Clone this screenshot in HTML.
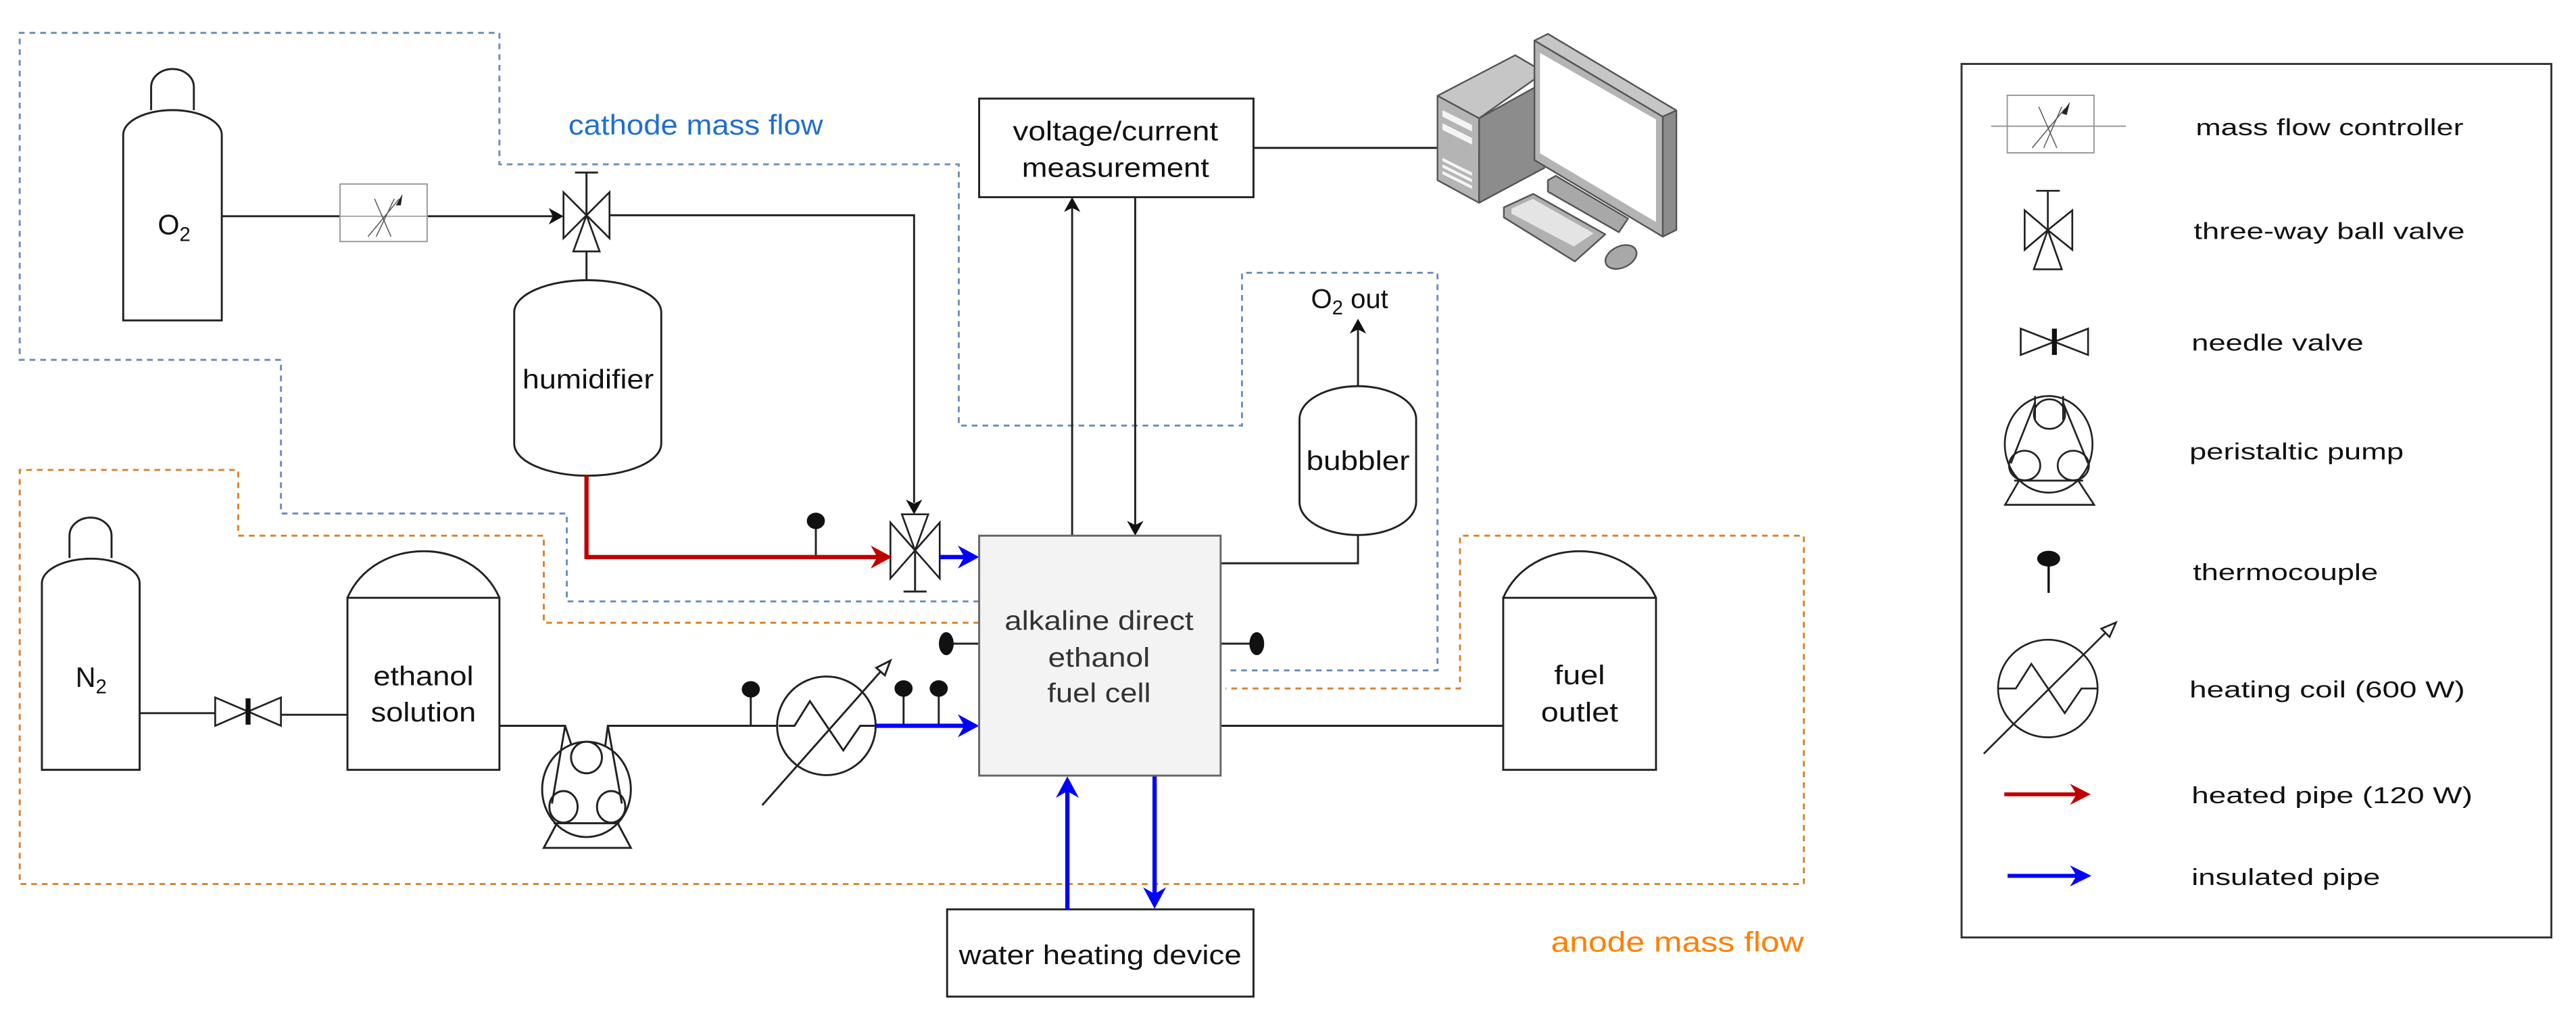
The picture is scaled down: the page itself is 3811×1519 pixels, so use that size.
<!DOCTYPE html>
<html><head><meta charset="utf-8"><style>
html,body{margin:0;padding:0;background:#fff;}
svg{display:block;}
text{font-family:"Liberation Sans",Arial,sans-serif;}
</style></head><body>
<svg width="3811" height="1519" viewBox="0 0 1568 625" preserveAspectRatio="none" xmlns="http://www.w3.org/2000/svg">
<rect width="1568" height="625" fill="#fff"/>

<!-- dashed regions -->
<g fill="none" stroke-width="1.2" stroke-dasharray="3.5 3">
<path stroke="#6c8ebf" d="M596,366 H345 V312.5 H171 V219 H12 V20 H304 V100 H583.6 V259 H756 V166 H875 V408 H746"/>
<path stroke="#d9822b" d="M596,379 H331 V326 H145 V286 H12 V538 H1098 V326 H888.7 V419 H746"/>
</g>

<!-- text labels regions -->
<text x="346" y="81.8" font-size="17" fill="#1f6fd0" textLength="155" lengthAdjust="spacingAndGlyphs">cathode mass flow</text>
<text x="944" y="579.2" font-size="17" fill="#ff8000" textLength="154" lengthAdjust="spacingAndGlyphs">anode mass flow</text>

<g fill="none" stroke="#222" stroke-width="1.2">
<!-- O2 cylinder -->
<path d="M92,67 V53 A13,11 0 0 1 118,53 V67" fill="#fff"/>
<path d="M75,195 V82 A30,15 0 0 1 135,82 V195 Z" fill="#fff"/>
<!-- N2 cylinder -->
<path d="M42.3,339.6 V326 A12.8,11 0 0 1 67.9,326 V339.6" fill="#fff"/>
<path d="M25.5,468.5 V355 A29.75,15 0 0 1 85,355 V468.5 Z" fill="#fff"/>
<!-- pipe O2 -> valve -->
<line x1="135" y1="131.6" x2="209" y2="131.6"/>
<line x1="260" y1="131.6" x2="337" y2="131.6"/>
<!-- valve1 -> valve2 -->
<path d="M371,131 H556.4 V306"/>
<!-- valve1 stem -->
<line x1="357" y1="131" x2="357" y2="105"/>
<line x1="350" y1="105" x2="364" y2="105"/>
<line x1="357" y1="153" x2="357" y2="171"/>
<!-- humidifier -->
<path d="M313,190 A44.75,19.5 0 0 1 402.5,190 V270 A44.75,19.5 0 0 1 313,270 Z" fill="#fff"/>
<!-- valve2 stem -->
<line x1="557" y1="335" x2="557" y2="360"/>
<line x1="550" y1="360" x2="564" y2="360"/>
<!-- voltage box -->
<rect x="596" y="60" width="167" height="60" fill="#fff"/>
<line x1="763" y1="90" x2="876" y2="90"/>
<line x1="652.6" y1="326" x2="652.6" y2="126"/>
<line x1="691" y1="120" x2="691" y2="320"/>
<!-- bubbler -->
<path d="M791,255 A35.5,20 0 0 1 862,255 V305.6 A35.5,20 0 0 1 791,305.6 Z" fill="#fff"/>
<line x1="826.6" y1="235" x2="826.6" y2="200"/>
<path d="M826.6,325.6 V342.8 H743"/>
<!-- N2 -> needle valve -> ethanol -->
<line x1="85" y1="434" x2="131" y2="434"/>
<line x1="171" y1="435" x2="211.5" y2="435"/>
<!-- ethanol tank -->
<path d="M211.5,363.8 C228,326 287.5,326 304,363.8" fill="#fff"/>
<rect x="211.5" y="363.8" width="92.5" height="104.7" fill="#fff"/>
<!-- fuel outlet tank -->
<path d="M915,363.8 C931.5,326 991.5,326 1008,363.8" fill="#fff"/>
<rect x="915" y="363.8" width="93" height="104.7" fill="#fff"/>
<!-- pipes ethanol -> pump -> heater -->
<path d="M304,441.7 H344 L349,457"/>
<path d="M368,457 L370,441.7 H474"/>
<line x1="743" y1="441.7" x2="915" y2="441.7"/>
<!-- pump -->
<ellipse cx="357" cy="480.4" rx="27" ry="29" fill="#fff"/>
<ellipse cx="357" cy="461" rx="9.4" ry="9.6"/>
<ellipse cx="343" cy="491" rx="8.6" ry="9.6"/>
<ellipse cx="372" cy="491" rx="8.6" ry="9.6"/>
<line x1="344" y1="441.7" x2="336" y2="489"/>
<line x1="370" y1="441.7" x2="378.5" y2="489"/>
<line x1="337" y1="501" x2="377" y2="501"/>
<path d="M339,501 L331,516 H384 L376,501"/>
<!-- heater -->
<circle cx="503" cy="441.7" r="30" fill="#fff"/>
<path d="M474,441.7 H483.6 L493,426.7 L513.3,456.7 L523.6,441.7 H533"/>
<line x1="464" y1="490" x2="536" y2="408.7"/>
<polygon points="542,402 538.6,411 533.4,406.4" fill="#fff"/>
<!-- thermocouple stems -->
<line x1="496.6" y1="320" x2="496.6" y2="339"/>
<line x1="457" y1="423" x2="457" y2="441.7"/>
<line x1="550" y1="423" x2="550" y2="441.7"/>
<line x1="571.4" y1="423" x2="571.4" y2="441.7"/>
<line x1="580" y1="391.7" x2="596" y2="391.7"/>
<line x1="743" y1="391.7" x2="761" y2="391.7"/>
<!-- water heating device -->
<rect x="576.5" y="553.4" width="186.5" height="53.1" fill="#fff"/>
</g>

<!-- MFC main -->
<rect x="207" y="112" width="53" height="35" fill="#fff" stroke="#999" stroke-width="0.8"/>
<line x1="207" y1="131.6" x2="260" y2="131.6" stroke="#aaa" stroke-width="0.8"/>
<g stroke="#555" stroke-width="0.6" fill="none">
<line x1="228" y1="121" x2="238" y2="144"/><line x1="240" y1="121" x2="229" y2="144"/>
<line x1="224" y1="144" x2="243" y2="121"/>
</g>
<polygon points="245,118 241,125 244,125" fill="#222"/>

<!-- valve1 -->
<g fill="#fff" stroke="#222" stroke-width="1.1">
<polygon points="343,117 343,145 357,131"/>
<polygon points="371,117 371,145 357,131"/>
<polygon points="357,131 349,153 365,153"/>
</g>
<!-- valve2 -->
<g fill="#fff" stroke="#222" stroke-width="1.1">
<polygon points="557,335 549,313 565,313"/>
<polygon points="542,318 542,352 557,335"/>
<polygon points="572,318 572,352 557,335"/>
</g>
<!-- needle valve main -->
<g fill="#fff" stroke="#222" stroke-width="1.1">
<polygon points="131,424.5 131,441.7 151,433"/>
<polygon points="171,424.5 171,441.7 151,433"/>
</g>
<rect x="149.5" y="425" width="3" height="16" fill="#111"/>

<!-- arrows black -->
<g fill="#111">
<polygon points="343,131.6 334,126.6 336.5,131.6 334,136.6"/>
<polygon points="556.4,313 551.4,304 556.4,306.5 561.4,304"/>
<polygon points="652.6,120 647.6,129 652.6,126.5 657.6,129"/>
<polygon points="691,326 686,317 691,319.5 696,317"/>
<polygon points="826.6,194 821.6,203 826.6,200.5 831.6,203"/>
</g>

<!-- red pipe -->
<path d="M357,289.5 V339 H535" fill="none" stroke="#c00000" stroke-width="2.6"/>
<polygon points="543,339 530,332 534,339 530,346" fill="#c00000"/>
<!-- blue pipes -->
<g stroke="#0000ff" stroke-width="2.6" fill="none">
<line x1="572" y1="339" x2="589" y2="339"/>
<line x1="533" y1="441.7" x2="589" y2="441.7"/>
<line x1="649.7" y1="553.4" x2="649.7" y2="480"/>
<line x1="702.8" y1="472" x2="702.8" y2="545"/>
</g>
<g fill="#0000ff">
<polygon points="596,339 583,332 587,339 583,346"/>
<polygon points="596,441.7 583,434.7 587,441.7 583,448.7"/>
<polygon points="649.7,472.5 642.7,485.5 649.7,481.5 656.7,485.5"/>
<polygon points="702.8,553 695.8,540 702.8,544 709.8,540"/>
</g>

<!-- thermocouple balls -->
<g fill="#111">
<ellipse cx="496.6" cy="317" rx="5.5" ry="5"/>
<ellipse cx="457" cy="419.5" rx="5.5" ry="5"/>
<ellipse cx="550" cy="419" rx="5.5" ry="5"/>
<ellipse cx="571.4" cy="419" rx="5.5" ry="5"/>
<ellipse cx="576" cy="391.7" rx="4.5" ry="7"/>
<ellipse cx="765" cy="391.7" rx="4.5" ry="7"/>
</g>

<!-- fuel cell -->
<rect x="596" y="326" width="147" height="146" fill="#f3f3f3" stroke="#666" stroke-width="1.2"/>
<g font-size="16.5" fill="#333" text-anchor="middle">
<text x="669" y="383.2" textLength="115" lengthAdjust="spacingAndGlyphs">alkaline direct</text>
<text x="669" y="405.6" textLength="62" lengthAdjust="spacingAndGlyphs">ethanol</text>
<text x="669" y="427.3" textLength="63" lengthAdjust="spacingAndGlyphs">fuel cell</text>
</g>

<!-- other labels -->
<g font-size="16.5" fill="#111" text-anchor="middle">
<text x="358" y="236.3" textLength="80" lengthAdjust="spacingAndGlyphs">humidifier</text>
<text x="679" y="85.3" textLength="125" lengthAdjust="spacingAndGlyphs">voltage/current</text>
<text x="679" y="107.7" textLength="114" lengthAdjust="spacingAndGlyphs">measurement</text>
<text x="826.6" y="286" textLength="63" lengthAdjust="spacingAndGlyphs">bubbler</text>
<text x="257.75" y="417" textLength="61" lengthAdjust="spacingAndGlyphs">ethanol</text>
<text x="257.75" y="439" textLength="64" lengthAdjust="spacingAndGlyphs">solution</text>
<text x="961.5" y="416.5" textLength="31" lengthAdjust="spacingAndGlyphs">fuel</text>
<text x="961.5" y="439" textLength="47" lengthAdjust="spacingAndGlyphs">outlet</text>
<text x="669.7" y="586.7" textLength="172" lengthAdjust="spacingAndGlyphs">water heating device</text>
</g>
<text x="96" y="142.6" font-size="17" fill="#111">O<tspan font-size="12" dy="4">2</tspan></text>
<text x="46" y="418" font-size="17" fill="#111">N<tspan font-size="12" dy="4">2</tspan></text>
<text x="798" y="187.4" font-size="16.5" fill="#111">O<tspan font-size="12" dy="4">2</tspan><tspan dy="-4"> out</tspan></text>

<!-- computer -->
<g stroke="#555" stroke-width="1" stroke-linejoin="round">
<polygon points="875,58.3 922.3,33.6 940,44 900.3,72" fill="#c6c6c6"/>
<polygon points="900.3,72 940,50 940,102.2 900.3,123.4" fill="#8c8c8c"/>
<polygon points="875,58.3 900.3,72 900.3,123.4 875,109.7" fill="#b4b4b4"/>
<polygon points="934,24.7 942.2,20.6 1020.4,67.2 1012.1,71" fill="#c6c6c6"/>
<polygon points="1012.1,71 1020.4,67.2 1020.4,139.9 1012.1,144" fill="#8c8c8c"/>
<polygon points="934,24.7 1012.1,71 1012.1,144 934,97.4" fill="#b4b4b4"/>
<polygon points="942.2,109.7 947,107 991,133 985.4,141.3 942.2,116.6" fill="#a8a8a8"/>
<polygon points="915.4,126.2 933.3,118 977.1,142.6 958.6,159.1 915.4,132.3" fill="#b0b0b0"/>
<ellipse cx="986.7" cy="156.4" rx="10" ry="6.5" transform="rotate(-25 986.7 156.4)" fill="#a8a8a8"/>
</g>
<polygon points="937.4,32.2 1008,72.7 1008,135.1 937.4,93.3" fill="#fff"/>
<g fill="#f4f4f4">
<polygon points="878,67 896,76 896,80 878,71"/>
<polygon points="878,75 896,84 896,88 878,79"/>
<polygon points="878,96 896,105 896,107 878,98"/>
<polygon points="878,100 896,109 896,111 878,102"/>
<polygon points="878,104 896,113 896,115 878,106"/>
<polygon points="920,127 933,121 970,142 958,150 920,130" fill="#e4e4e4"/>
</g>

<!-- legend -->
<rect x="1194" y="38.9" width="359" height="531.6" fill="none" stroke="#333" stroke-width="1.2"/>
<!-- MFC legend -->
<rect x="1221.8" y="58" width="52.8" height="35" fill="#fff" stroke="#999" stroke-width="0.8"/>
<line x1="1212" y1="76.8" x2="1294" y2="76.8" stroke="#999" stroke-width="0.8"/>
<g stroke="#555" stroke-width="0.6" fill="none">
<line x1="1241" y1="65" x2="1252" y2="90"/><line x1="1255" y1="65" x2="1244" y2="90"/>
<line x1="1237" y1="90" x2="1257" y2="66"/>
</g>
<polygon points="1260,62 1255,69 1258,70" fill="#222"/>
<!-- three-way legend -->
<g fill="#fff" stroke="#222" stroke-width="1.1">
<line x1="1246.5" y1="140" x2="1246.5" y2="116.1"/>
<line x1="1239.4" y1="116.1" x2="1253.8" y2="116.1"/>
<polygon points="1232.4,128 1232.4,152 1246.5,140"/>
<polygon points="1261.4,128 1261.4,152 1246.5,140"/>
<polygon points="1246.5,140 1238,163.9 1255,163.9"/>
</g>
<!-- needle legend -->
<g fill="#fff" stroke="#222" stroke-width="1.1">
<polygon points="1230,200 1230,216 1250.5,208"/>
<polygon points="1271,200 1271,216 1250.5,208"/>
</g>
<rect x="1249" y="200" width="3" height="16" fill="#111"/>
<!-- pump legend -->
<g fill="none" stroke="#222" stroke-width="1.1">
<ellipse cx="1247" cy="270.4" rx="26.7" ry="29.4"/>
<ellipse cx="1247.5" cy="252" rx="9.5" ry="9"/>
<ellipse cx="1232.4" cy="283.3" rx="9.5" ry="9"/>
<ellipse cx="1262" cy="283.3" rx="9.5" ry="9"/>
<line x1="1238.7" y1="241" x2="1238.7" y2="255.7"/>
<line x1="1255.8" y1="241" x2="1255.8" y2="255.7"/>
<line x1="1238.7" y1="245" x2="1224" y2="282"/>
<line x1="1255.8" y1="245" x2="1271" y2="282"/>
<line x1="1226" y1="292.5" x2="1268" y2="292.5"/>
<path d="M1229,292.5 L1220.5,307.2 H1274.7 L1265,292.5"/>
</g>
<!-- thermocouple legend -->
<line x1="1247" y1="340" x2="1247" y2="360.8" stroke="#111" stroke-width="1.4"/>
<ellipse cx="1247" cy="340" rx="7" ry="4.8" fill="#111"/>
<!-- heating coil legend -->
<g fill="none" stroke="#222" stroke-width="1.1">
<ellipse cx="1246.5" cy="419" rx="30.3" ry="29.7"/>
<path d="M1216.5,419 H1227 L1236.5,404 L1256.8,434 L1267,419 H1276.8"/>
<line x1="1207.5" y1="458.7" x2="1281.6" y2="385.1"/>
<polygon points="1288,378.8 1284.1,387.6 1279.1,382.6" fill="#fff"/>
</g>
<!-- pipe legends -->
<line x1="1220" y1="483.4" x2="1265" y2="483.4" stroke="#c00000" stroke-width="2.4"/>
<polygon points="1272.6,483.4 1260,477 1264,483.4 1260,489.8" fill="#c00000"/>
<line x1="1222" y1="533" x2="1266" y2="533" stroke="#0000ff" stroke-width="2.4"/>
<polygon points="1273,533 1260,526.6 1264,533 1260,539.4" fill="#0000ff"/>
<!-- legend text -->
<g font-size="14" fill="#111">
<text x="1336.5" y="82.3" textLength="163" lengthAdjust="spacingAndGlyphs">mass flow controller</text>
<text x="1335.3" y="145.4" textLength="165" lengthAdjust="spacingAndGlyphs">three-way ball valve</text>
<text x="1334" y="213.3" textLength="104.7" lengthAdjust="spacingAndGlyphs">needle valve</text>
<text x="1332.7" y="279.5" textLength="130.4" lengthAdjust="spacingAndGlyphs">peristaltic pump</text>
<text x="1334.8" y="353" textLength="112.7" lengthAdjust="spacingAndGlyphs">thermocouple</text>
<text x="1332.7" y="424.5" textLength="167.7" lengthAdjust="spacingAndGlyphs">heating coil (600 W)</text>
<text x="1334" y="488.9" textLength="171" lengthAdjust="spacingAndGlyphs">heated pipe (120 W)</text>
<text x="1334" y="538.5" textLength="114.8" lengthAdjust="spacingAndGlyphs">insulated pipe</text>
</g>
</svg>
</body></html>
